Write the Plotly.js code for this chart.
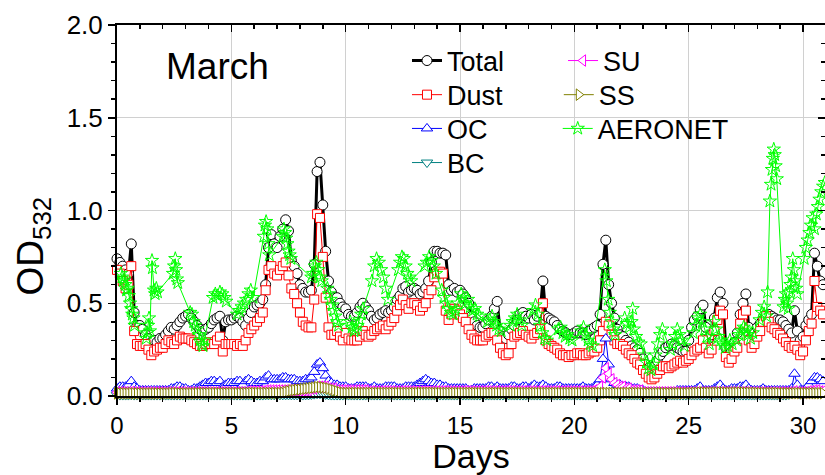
<!DOCTYPE html>
<html>
<head>
<meta charset="utf-8">
<script src="https://cdn.plot.ly/plotly-3.0.1.min.js"></script>
<style>
  html, body { margin: 0; padding: 0; background: #ffffff; overflow: hidden; }
  #chart { width: 825px; height: 475px; }
</style>
</head>
<body>
<div id="chart"></div>
<script>
// ---- Model time grid: 3-hourly steps (8 per day), day 0 .. day 31 ----
const stepDays = 0.125;
const nSteps = 249;
const days = [];
for (let i = 0; i < nSteps; i++) days.push(i * stepDays);

// ---- Total OD532, one row per day ----
const total = [
  0.74,0.72,0.70,0.68,0.66,0.82,0.45,0.38,
  0.38,0.36,0.33,0.31,0.29,0.30,0.29,0.31,
  0.31,0.33,0.35,0.37,0.36,0.38,0.40,0.42,
  0.43,0.44,0.42,0.40,0.38,0.36,0.35,0.36,
  0.37,0.39,0.41,0.42,0.43,0.30,0.40,0.41,
  0.41,0.42,0.43,0.42,0.40,0.38,0.42,0.45,
  0.48,0.49,0.50,0.52,0.60,0.80,0.87,0.82,
  0.80,0.86,0.90,0.95,0.89,0.73,0.70,0.66,
  0.60,0.58,0.56,0.56,0.57,0.71,1.21,1.26,
  1.03,0.78,0.62,0.56,0.53,0.53,0.50,0.48,
  0.47,0.44,0.43,0.43,0.45,0.48,0.50,0.48,
  0.46,0.43,0.41,0.42,0.44,0.45,0.46,0.45,
  0.46,0.48,0.52,0.54,0.58,0.59,0.56,0.57,
  0.58,0.57,0.55,0.56,0.58,0.62,0.72,0.78,
  0.78,0.77,0.77,0.76,0.60,0.57,0.58,0.56,
  0.57,0.55,0.53,0.50,0.43,0.40,0.38,0.37,
  0.37,0.39,0.41,0.43,0.47,0.51,0.35,0.32,
  0.31,0.33,0.36,0.38,0.41,0.44,0.45,0.43,
  0.42,0.44,0.41,0.43,0.45,0.62,0.43,0.42,
  0.41,0.40,0.38,0.36,0.35,0.34,0.33,0.33,
  0.34,0.35,0.34,0.34,0.33,0.35,0.36,0.37,
  0.38,0.44,0.71,0.84,0.60,0.50,0.42,0.36,
  0.33,0.32,0.30,0.29,0.27,0.26,0.25,0.23,
  0.20,0.17,0.15,0.14,0.16,0.19,0.22,0.24,
  0.26,0.27,0.28,0.27,0.26,0.25,0.24,0.24,
  0.30,0.37,0.41,0.43,0.47,0.49,0.37,0.31,
  0.33,0.42,0.53,0.56,0.50,0.26,0.22,0.24,
  0.29,0.34,0.44,0.50,0.55,0.37,0.32,0.34,
  0.37,0.39,0.41,0.43,0.44,0.43,0.42,0.41,
  0.41,0.40,0.38,0.36,0.34,0.46,0.35,0.30,
  0.32,0.38,0.41,0.44,0.77,0.70,0.62,0.60,
  0.58
];

// ---- Dust ----
const dust = [
  0.68,0.66,0.62,0.58,0.60,0.70,0.35,0.28,
  0.27,0.27,0.28,0.25,0.22,0.24,0.25,0.26,
  0.26,0.28,0.30,0.29,0.28,0.30,0.32,0.31,
  0.31,0.31,0.30,0.29,0.28,0.27,0.27,0.28,
  0.29,0.28,0.28,0.30,0.32,0.24,0.28,0.28,
  0.28,0.28,0.27,0.28,0.27,0.30,0.34,0.36,
  0.38,0.40,0.42,0.45,0.57,0.68,0.70,0.66,
  0.65,0.68,0.70,0.72,0.65,0.58,0.55,0.50,
  0.45,0.40,0.38,0.37,0.37,0.52,0.98,0.96,
  0.75,0.53,0.37,0.33,0.33,0.35,0.32,0.30,
  0.34,0.31,0.30,0.30,0.30,0.32,0.35,0.33,
  0.32,0.33,0.35,0.36,0.37,0.38,0.36,0.38,
  0.40,0.42,0.46,0.49,0.52,0.49,0.47,0.50,
  0.50,0.49,0.46,0.48,0.50,0.55,0.57,0.64,
  0.66,0.67,0.66,0.46,0.41,0.44,0.47,0.46,
  0.44,0.42,0.40,0.36,0.33,0.31,0.30,0.30,
  0.30,0.32,0.33,0.34,0.34,0.30,0.26,0.23,
  0.22,0.23,0.28,0.32,0.33,0.34,0.35,0.33,
  0.32,0.31,0.33,0.34,0.36,0.50,0.30,0.28,
  0.27,0.26,0.25,0.23,0.22,0.22,0.21,0.22,
  0.22,0.23,0.23,0.22,0.22,0.23,0.24,0.24,
  0.26,0.30,0.35,0.40,0.38,0.33,0.30,0.28,
  0.28,0.27,0.25,0.23,0.22,0.20,0.18,0.17,
  0.14,0.12,0.10,0.09,0.10,0.12,0.14,0.16,
  0.16,0.15,0.16,0.17,0.18,0.19,0.18,0.19,
  0.20,0.22,0.24,0.25,0.26,0.30,0.26,0.23,
  0.25,0.35,0.41,0.46,0.44,0.21,0.18,0.20,
  0.24,0.26,0.39,0.44,0.46,0.30,0.26,0.28,
  0.32,0.35,0.40,0.43,0.40,0.37,0.36,0.34,
  0.33,0.31,0.29,0.27,0.26,0.27,0.25,0.22,
  0.24,0.30,0.35,0.39,0.62,0.48,0.46,0.44,
  0.44
];

// ---- OC ----
const oc = [
  0.04,0.05,0.05,0.05,0.06,0.08,0.05,0.04,
  0.03,0.03,0.03,0.03,0.03,0.03,0.03,0.03,
  0.03,0.03,0.03,0.04,0.04,0.05,0.05,0.04,
  0.04,0.03,0.03,0.04,0.04,0.05,0.06,0.07,
  0.07,0.08,0.08,0.07,0.08,0.05,0.06,0.07,
  0.07,0.07,0.08,0.08,0.06,0.08,0.09,0.08,
  0.07,0.07,0.08,0.08,0.10,0.11,0.09,0.09,
  0.09,0.09,0.10,0.10,0.09,0.09,0.09,0.08,
  0.08,0.08,0.09,0.09,0.10,0.13,0.17,0.18,
  0.15,0.11,0.08,0.07,0.06,0.06,0.05,0.05,
  0.05,0.04,0.04,0.04,0.05,0.05,0.05,0.05,
  0.04,0.04,0.05,0.04,0.04,0.04,0.05,0.05,
  0.05,0.05,0.04,0.04,0.04,0.05,0.05,0.05,
  0.05,0.06,0.07,0.08,0.09,0.08,0.07,0.07,
  0.06,0.06,0.05,0.05,0.04,0.04,0.04,0.04,
  0.04,0.04,0.04,0.03,0.03,0.04,0.04,0.04,
  0.04,0.04,0.05,0.05,0.04,0.05,0.04,0.04,
  0.04,0.04,0.05,0.05,0.04,0.04,0.05,0.05,
  0.04,0.05,0.06,0.05,0.05,0.06,0.05,0.04,
  0.04,0.04,0.05,0.05,0.04,0.04,0.04,0.04,
  0.04,0.04,0.04,0.05,0.04,0.04,0.04,0.05,
  0.06,0.09,0.20,0.31,0.17,0.09,0.07,0.06,
  0.06,0.05,0.05,0.05,0.04,0.04,0.04,0.03,
  0.03,0.02,0.02,0.02,0.02,0.02,0.02,0.02,
  0.02,0.02,0.02,0.02,0.03,0.03,0.03,0.03,
  0.03,0.03,0.03,0.04,0.05,0.03,0.03,0.03,
  0.03,0.04,0.05,0.06,0.04,0.03,0.03,0.04,
  0.04,0.04,0.05,0.05,0.06,0.04,0.03,0.03,
  0.03,0.03,0.04,0.03,0.03,0.03,0.03,0.03,
  0.03,0.03,0.03,0.03,0.04,0.12,0.06,0.03,
  0.03,0.04,0.06,0.08,0.10,0.10,0.09,0.08,
  0.08
];

// ---- BC ----
const bc = [
  0.005,0.005,0.005,0.005,0.005,0.006,0.005,0.005,
  0.005,0.005,0.005,0.005,0.005,0.005,0.005,0.005,
  0.005,0.005,0.005,0.005,0.005,0.005,0.005,0.005,
  0.005,0.005,0.005,0.005,0.005,0.005,0.005,0.005,
  0.005,0.005,0.005,0.005,0.005,0.005,0.005,0.005,
  0.005,0.005,0.005,0.005,0.005,0.005,0.005,0.005,
  0.005,0.005,0.005,0.005,0.006,0.006,0.006,0.006,
  0.006,0.006,0.006,0.006,0.006,0.006,0.006,0.006,
  0.005,0.005,0.006,0.006,0.008,0.010,0.012,0.012,
  0.010,0.008,0.006,0.005,0.005,0.005,0.005,0.005,
  0.005,0.005,0.005,0.005,0.005,0.005,0.005,0.005,
  0.005,0.005,0.005,0.005,0.005,0.005,0.005,0.005,
  0.005,0.005,0.005,0.005,0.005,0.005,0.005,0.005,
  0.005,0.005,0.005,0.005,0.005,0.005,0.005,0.005,
  0.005,0.005,0.005,0.005,0.005,0.005,0.005,0.005,
  0.005,0.005,0.005,0.005,0.005,0.005,0.005,0.005,
  0.005,0.005,0.005,0.005,0.005,0.005,0.005,0.005,
  0.005,0.005,0.005,0.005,0.005,0.005,0.005,0.005,
  0.005,0.005,0.005,0.005,0.005,0.005,0.005,0.005,
  0.005,0.005,0.005,0.005,0.005,0.005,0.005,0.005,
  0.005,0.005,0.005,0.005,0.005,0.005,0.005,0.005,
  0.005,0.008,0.015,0.020,0.015,0.010,0.008,0.006,
  0.005,0.005,0.005,0.005,0.005,0.005,0.005,0.005,
  0.005,0.005,0.005,0.005,0.005,0.005,0.005,0.005,
  0.005,0.005,0.005,0.005,0.005,0.005,0.005,0.005,
  0.005,0.005,0.005,0.005,0.005,0.005,0.005,0.005,
  0.005,0.005,0.005,0.005,0.005,0.005,0.005,0.005,
  0.005,0.005,0.005,0.005,0.005,0.005,0.005,0.005,
  0.005,0.005,0.005,0.005,0.005,0.005,0.005,0.005,
  0.005,0.005,0.005,0.008,0.012,0.030,0.020,0.010,
  0.010,0.015,0.020,0.025,0.030,0.030,0.025,0.020,
  0.020
];

// ---- SU ----
const su = [
  0.020,0.020,0.020,0.020,0.020,0.022,0.020,0.020,
  0.020,0.020,0.020,0.020,0.020,0.020,0.020,0.020,
  0.020,0.020,0.020,0.020,0.020,0.020,0.020,0.020,
  0.020,0.020,0.020,0.020,0.020,0.020,0.020,0.020,
  0.020,0.020,0.020,0.020,0.020,0.020,0.020,0.020,
  0.020,0.020,0.020,0.020,0.020,0.020,0.025,0.025,
  0.025,0.025,0.025,0.025,0.030,0.030,0.030,0.030,
  0.030,0.030,0.030,0.030,0.030,0.030,0.030,0.030,
  0.030,0.030,0.030,0.030,0.040,0.040,0.050,0.050,
  0.050,0.050,0.040,0.040,0.040,0.030,0.030,0.030,
  0.030,0.030,0.030,0.030,0.030,0.030,0.030,0.030,
  0.025,0.025,0.025,0.025,0.025,0.025,0.025,0.025,
  0.025,0.025,0.025,0.025,0.025,0.025,0.025,0.025,
  0.025,0.025,0.025,0.025,0.025,0.025,0.025,0.025,
  0.025,0.025,0.025,0.025,0.025,0.025,0.025,0.025,
  0.025,0.025,0.025,0.025,0.025,0.025,0.025,0.025,
  0.025,0.025,0.025,0.025,0.025,0.025,0.025,0.025,
  0.025,0.025,0.025,0.025,0.025,0.025,0.025,0.025,
  0.025,0.025,0.025,0.025,0.025,0.025,0.025,0.025,
  0.025,0.025,0.025,0.025,0.025,0.025,0.025,0.025,
  0.025,0.025,0.025,0.025,0.025,0.025,0.025,0.030,
  0.030,0.050,0.100,0.150,0.120,0.090,0.070,0.060,
  0.050,0.050,0.040,0.040,0.030,0.030,0.030,0.030,
  0.020,0.020,0.020,0.020,0.020,0.020,0.020,0.020,
  0.020,0.020,0.020,0.020,0.020,0.020,0.020,0.020,
  0.020,0.020,0.020,0.020,0.020,0.020,0.020,0.020,
  0.020,0.020,0.020,0.020,0.020,0.020,0.020,0.020,
  0.020,0.020,0.020,0.020,0.020,0.020,0.020,0.020,
  0.020,0.020,0.020,0.020,0.020,0.020,0.020,0.020,
  0.020,0.020,0.020,0.020,0.020,0.025,0.020,0.020,
  0.020,0.020,0.025,0.025,0.030,0.030,0.025,0.025,
  0.025
];

// ---- SS ----
const ss = [
  0.014,0.014,0.015,0.014,0.014,0.015,0.014,0.014,
  0.014,0.014,0.014,0.014,0.014,0.014,0.014,0.014,
  0.014,0.014,0.014,0.015,0.015,0.015,0.014,0.014,
  0.014,0.014,0.014,0.014,0.015,0.015,0.015,0.015,
  0.015,0.015,0.015,0.015,0.015,0.015,0.015,0.015,
  0.015,0.015,0.015,0.015,0.015,0.016,0.016,0.016,
  0.016,0.016,0.016,0.016,0.016,0.016,0.016,0.016,
  0.016,0.016,0.018,0.022,0.026,0.030,0.032,0.034,
  0.035,0.038,0.040,0.042,0.044,0.046,0.048,0.048,
  0.046,0.044,0.040,0.035,0.030,0.025,0.020,0.017,
  0.016,0.016,0.016,0.016,0.016,0.016,0.016,0.016,
  0.016,0.016,0.016,0.016,0.016,0.016,0.016,0.016,
  0.016,0.016,0.016,0.016,0.016,0.016,0.016,0.016,
  0.016,0.016,0.017,0.017,0.017,0.017,0.017,0.016,
  0.016,0.016,0.016,0.016,0.016,0.016,0.016,0.016,
  0.016,0.016,0.016,0.016,0.016,0.016,0.016,0.016,
  0.016,0.016,0.016,0.016,0.016,0.016,0.016,0.016,
  0.016,0.016,0.016,0.016,0.016,0.016,0.016,0.016,
  0.016,0.016,0.016,0.016,0.016,0.016,0.016,0.016,
  0.016,0.016,0.016,0.016,0.016,0.016,0.016,0.016,
  0.016,0.016,0.016,0.016,0.016,0.016,0.016,0.016,
  0.016,0.016,0.016,0.016,0.016,0.016,0.016,0.016,
  0.016,0.016,0.016,0.016,0.016,0.016,0.016,0.016,
  0.015,0.015,0.015,0.015,0.015,0.015,0.015,0.015,
  0.015,0.015,0.015,0.015,0.015,0.015,0.015,0.015,
  0.016,0.016,0.017,0.017,0.018,0.018,0.018,0.018,
  0.018,0.018,0.018,0.018,0.018,0.018,0.018,0.018,
  0.018,0.018,0.018,0.018,0.018,0.018,0.017,0.017,
  0.016,0.016,0.016,0.016,0.016,0.016,0.016,0.016,
  0.015,0.015,0.015,0.015,0.015,0.015,0.015,0.015,
  0.015,0.015,0.015,0.015,0.015,0.015,0.015,0.015,
  0.015
];

// ---- AERONET observations (day, OD) ----
const aeroDays = [
  0.17,0.22,0.27,0.32,0.37,0.42,0.47,0.52,0.57,0.62,0.67,0.72,0.77,
  1.28,1.32,1.36,1.40,1.44,1.53,1.55,1.62,1.67,1.72,1.77,
  2.45,2.50,2.55,2.58,2.62,2.66,
  3.20,3.28,3.35,3.42,3.50,3.57,3.64,3.70,3.76,3.82,
  4.20,4.30,4.40,4.50,4.60,4.70,4.78,
  5.25,5.35,5.45,5.55,5.65,5.75,5.85,5.95,
  6.42,6.47,6.52,6.57,6.62,6.66,
  7.25,7.30,7.35,7.40,7.45,7.50,7.55,7.60,
  8.50,8.58,8.65,8.72,8.80,8.88,8.95,
  9.20,9.27,9.34,9.41,9.48,9.55,9.62,9.69,
  10.20,10.28,10.36,10.44,10.52,10.60,10.68,10.76,
  11.15,11.25,11.35,11.45,11.55,11.65,11.75,11.85,
  12.30,12.38,12.46,12.54,12.62,12.70,12.78,12.86,
  13.45,13.55,13.65,13.75,13.85,13.95,
  14.20,14.30,14.40,14.50,14.60,14.70,14.80,14.90,
  15.05,15.15,15.25,15.35,15.45,15.55,15.65,15.75,15.85,
  16.20,16.30,16.40,16.50,16.60,16.70,16.80,
  17.20,17.30,17.40,17.50,17.60,17.70,
  18.20,18.30,18.40,18.50,18.60,18.70,18.80,
  19.30,19.40,19.50,19.60,19.70,19.80,19.90,
  20.30,20.40,20.50,20.60,20.70,20.80,
  21.33,21.40,21.48,21.55,21.62,21.70,21.78,
  22.20,22.30,22.40,22.50,22.55,22.60,22.70,22.80,22.90,
  23.05,23.15,23.25,23.35,23.45,23.55,23.65,23.75,23.85,
  24.20,24.30,24.40,24.50,24.60,24.70,24.80,
  25.20,25.30,25.40,25.50,25.60,25.70,25.80,25.90,
  26.10,26.20,26.30,26.40,26.50,26.60,26.70,26.80,26.90,
  27.10,27.20,27.30,27.40,27.50,27.60,27.70,27.80,
  28.10,28.20,28.30,28.40,28.45,28.55,28.60,28.64,28.68,28.72,28.76,28.80,28.85,
  29.15,29.20,29.25,29.30,29.35,29.40,29.45,29.50,29.55,29.60,29.65,29.70,29.75,
  30.05,30.12,30.20,30.28,30.35,30.42,30.50,30.58,30.65,30.72,30.80,30.88,30.95
];
const aeroOD = [
  0.66,0.64,0.62,0.63,0.60,0.57,0.58,0.54,0.50,0.47,0.44,0.42,0.38,
  0.31,0.34,0.38,0.42,0.35,0.73,0.69,0.57,0.55,0.58,0.56,
  0.66,0.70,0.74,0.68,0.63,0.61,
  0.45,0.44,0.40,0.38,0.36,0.33,0.30,0.28,0.27,0.30,
  0.53,0.55,0.54,0.56,0.55,0.53,0.51,
  0.44,0.46,0.48,0.50,0.52,0.55,0.57,0.53,
  0.86,0.92,0.94,0.90,0.82,0.76,
  0.86,0.90,0.88,0.85,0.82,0.78,0.76,0.74,
  0.64,0.66,0.70,0.72,0.68,0.64,0.62,
  0.58,0.55,0.52,0.49,0.46,0.43,0.40,0.38,
  0.40,0.37,0.35,0.36,0.38,0.41,0.44,0.47,
  0.62,0.70,0.74,0.72,0.68,0.64,0.58,0.52,
  0.68,0.72,0.75,0.74,0.70,0.66,0.64,0.62,
  0.70,0.72,0.75,0.73,0.70,0.66,
  0.57,0.53,0.50,0.47,0.45,0.44,0.46,0.50,
  0.55,0.53,0.50,0.52,0.48,0.46,0.47,0.44,0.43,
  0.40,0.41,0.43,0.40,0.38,0.36,0.35,
  0.38,0.40,0.42,0.44,0.41,0.38,
  0.46,0.49,0.44,0.38,0.34,0.31,0.30,
  0.36,0.37,0.34,0.32,0.33,0.31,0.30,
  0.35,0.37,0.33,0.30,0.28,0.27,
  0.68,0.62,0.52,0.45,0.40,0.36,0.33,
  0.42,0.39,0.37,0.40,0.47,0.36,0.32,0.29,0.28,
  0.22,0.18,0.15,0.14,0.17,0.22,0.28,0.33,0.36,
  0.25,0.28,0.32,0.36,0.33,0.30,0.27,
  0.34,0.38,0.42,0.44,0.40,0.36,0.32,0.28,
  0.40,0.36,0.32,0.30,0.28,0.26,0.27,0.30,0.28,
  0.30,0.33,0.35,0.37,0.36,0.33,0.31,0.34,
  0.41,0.45,0.48,0.43,0.56,1.05,1.14,1.22,1.28,1.33,1.30,1.24,1.17,
  0.48,0.52,0.55,0.50,0.47,0.56,0.60,0.64,0.74,0.68,0.62,0.58,0.55,
  0.74,0.80,0.84,0.88,0.92,0.96,0.90,0.98,1.02,1.06,1.10,1.13,1.15
];

// ---- Labels ----
const seriesNames = ['Total', 'Dust', 'OC', 'BC', 'SU', 'SS', 'AERONET'];
const monthLabel = 'March';
const xTitle = 'Days';
const yTitle = 'OD<sub>532</sub>';

const FONT = '"Liberation Sans", Arial, Helvetica, sans-serif';

function modelTrace(name, y, color, symbol, size, lineWidth, legendId) {
  return {
    type: 'scatter', mode: 'lines+markers', name: name,
    x: days, y: y, legend: legendId, cliponaxis: false,
    line: { color: color, width: lineWidth },
    marker: { symbol: symbol, size: size, color: '#ffffff', line: { color: color, width: 1 } }
  };
}

const traces = [
  modelTrace(seriesNames[0], total, '#000000', 'circle', 10, 3, 'legend'),
  modelTrace(seriesNames[1], dust, '#ff0000', 'square', 9, 1, 'legend2'),
  modelTrace(seriesNames[2], oc, '#0000ff', 'triangle-up', 10, 1, 'legend3'),
  modelTrace(seriesNames[3], bc, '#008080', 'triangle-down', 10, 1, 'legend4'),
  modelTrace(seriesNames[4], su, '#ff00ff', 'triangle-left', 10, 1, 'legend5'),
  modelTrace(seriesNames[5], ss, '#808000', 'triangle-right', 10, 1, 'legend6'),
  {
    type: 'scatter', mode: 'lines+markers', name: seriesNames[6],
    x: aeroDays, y: aeroOD, legend: 'legend7', cliponaxis: false,
    line: { color: '#00ff00', width: 1 },
    marker: { symbol: 'star-open', size: 10, color: '#00ff00', line: { color: '#00ff00', width: 1 } }
  },
  // helper (empty) trace to activate the mirrored top/right axes
  { type: 'scatter', x: [], y: [], xaxis: 'x2', yaxis: 'y2', showlegend: false, hoverinfo: 'skip' }
];

const XR = [0, 30.96];
const YR = [0, 2];

function legendBox(x, y) {
  return {
    x: x, xanchor: 'left', y: y, yanchor: 'middle',
    bgcolor: 'rgba(0,0,0,0)', borderwidth: 0, tracegroupgap: 0,
    font: { size: 27, family: FONT }
  };
}

const layout = {
  width: 825, height: 475,
  margin: { l: 117, r: 0, t: 25, b: 79, pad: 0 },
  paper_bgcolor: '#ffffff', plot_bgcolor: '#ffffff',
  font: { family: FONT, color: '#000000' },
  showlegend: true,
  xaxis: {
    range: XR, tick0: 0, dtick: 5, ticks: 'outside', ticklen: 7, tickwidth: 1.5, tickcolor: '#000',
    minor: { dtick: 1, tick0: 0, ticks: 'outside', ticklen: 4, tickwidth: 1.5, tickcolor: '#000', showgrid: false },
    showgrid: true, gridcolor: '#d0d0d0', gridwidth: 1,
    showline: true, linecolor: '#000', linewidth: 2, zeroline: false,
    tickfont: { size: 24, family: FONT },
    title: { text: xTitle, font: { size: 34, family: FONT }, standoff: 7 }
  },
  xaxis2: {
    overlaying: 'x', anchor: 'y', side: 'top', range: XR, tick0: 0, dtick: 5,
    ticks: 'inside', ticklen: 7, tickwidth: 1.5, tickcolor: '#000',
    minor: { dtick: 1, tick0: 0, ticks: 'inside', ticklen: 4, tickwidth: 1.5, tickcolor: '#000', showgrid: false },
    showticklabels: false, showgrid: false, showline: true, linecolor: '#000', linewidth: 2, zeroline: false
  },
  yaxis: {
    range: YR, tick0: 0, dtick: 0.5, tickformat: '.1f', ticks: 'outside', ticklen: 7, tickwidth: 1.5, tickcolor: '#000',
    minor: { dtick: 0.1, tick0: 0, ticks: 'outside', ticklen: 4, tickwidth: 1.5, tickcolor: '#000', showgrid: false },
    showgrid: true, gridcolor: '#d0d0d0', gridwidth: 1,
    showline: true, linecolor: '#000', linewidth: 2, zeroline: false,
    tickfont: { size: 26, family: FONT }
  },
  yaxis2: {
    overlaying: 'y', anchor: 'x', side: 'right', range: YR, tick0: 0, dtick: 0.5,
    ticks: 'inside', ticklen: 7, tickwidth: 1.5, tickcolor: '#000',
    minor: { dtick: 0.1, tick0: 0, ticks: 'inside', ticklen: 4, tickwidth: 1.5, tickcolor: '#000', showgrid: false },
    showticklabels: false, showgrid: false, showline: false, zeroline: false
  },
  legend:  legendBox(0.4096, 0.903),
  legend2: legendBox(0.4096, 0.811),
  legend3: legendBox(0.4096, 0.720),
  legend4: legendBox(0.4096, 0.628),
  legend5: legendBox(0.630, 0.903),
  legend6: legendBox(0.624, 0.811),
  legend7: legendBox(0.6225, 0.720),
  annotations: [
    {
      text: monthLabel, xref: 'paper', yref: 'paper', x: 0.066, y: 0.887,
      xanchor: 'left', yanchor: 'middle', showarrow: false,
      font: { size: 37, family: FONT }
    },
    {
      text: yTitle, xref: 'paper', yref: 'paper', x: -0.119, y: 0.405,
      xanchor: 'center', yanchor: 'middle', textangle: -90, showarrow: false,
      font: { size: 37, family: FONT }
    }
  ]
};

Plotly.newPlot('chart', traces, layout, { staticPlot: true, displayModeBar: false });
</script>
</body>
</html>
